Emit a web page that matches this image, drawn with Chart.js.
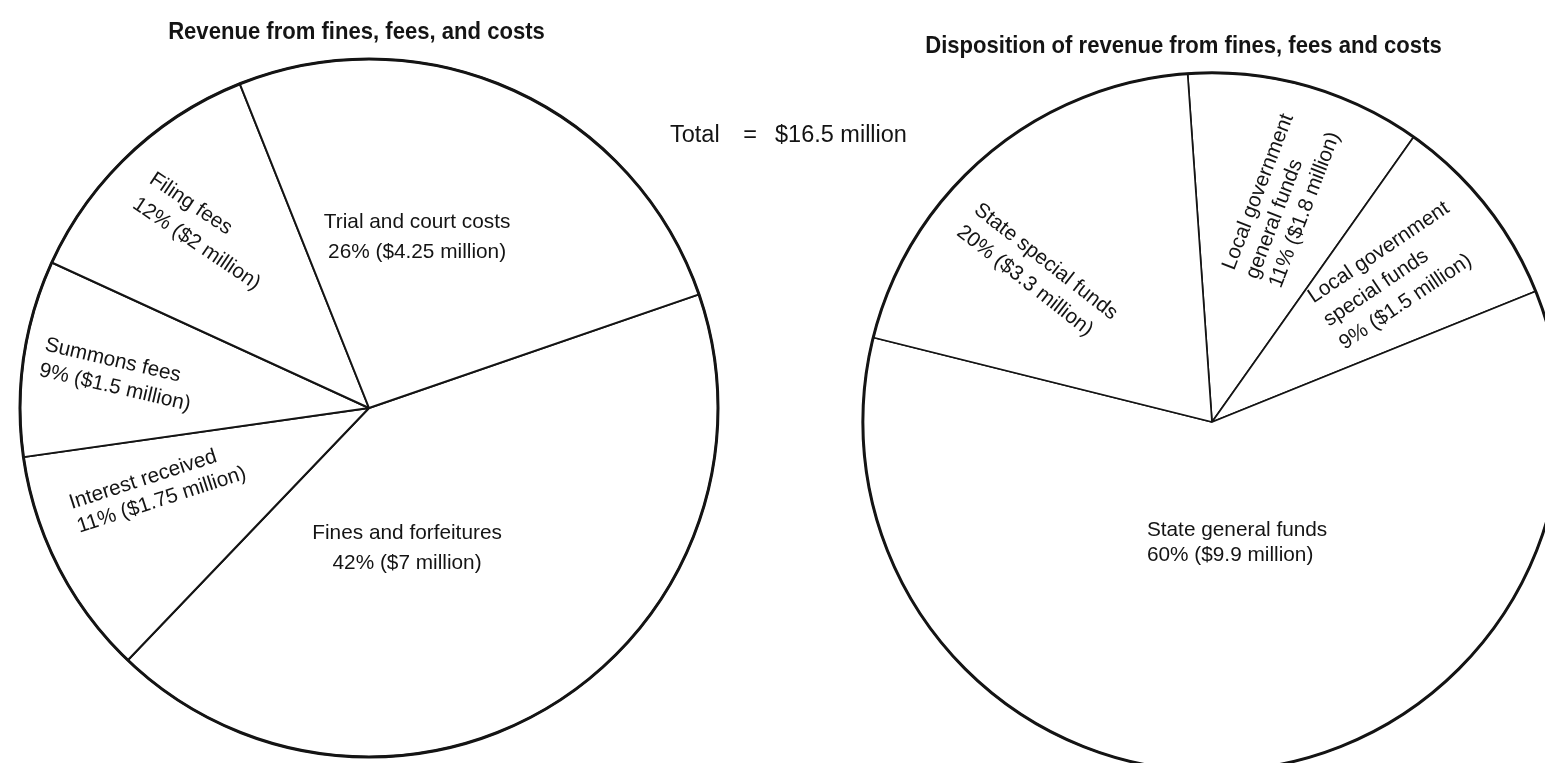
<!DOCTYPE html>
<html>
<head>
<meta charset="utf-8">
<title>Fines, fees and costs</title>
<script src="https://cdn.jsdelivr.net/npm/chart.js@4.4.1/dist/chart.umd.min.js"></script>
<style>
  html, body { margin: 0; padding: 0; background: #fff; overflow: hidden; }
  #stage { position: relative; width: 1545px; height: 763px; overflow: hidden; background: #fff; }
  #stage canvas { position: absolute; left: 0; top: 0; }
</style>
</head>
<body>
<div id="stage">
  <canvas id="revenue" width="1545" height="763"></canvas>
  <canvas id="disposition" width="1600" height="800"></canvas>
</div>
<script>
// ---- Data: slices listed clockwise, starting from the chart's rotation angle ----
const revenueNames = [
  ['Fines and forfeitures'],
  ['Interest received'],
  ['Summons fees'],
  ['Filing fees'],
  ['Trial and court costs']
];
const revenuePercent = [42, 11, 9, 12, 26];
const revenueMillions = [7, 1.75, 1.5, 2, 4.25];

const dispositionNames = [
  ['Local government', 'general funds'],
  ['Local government', 'special funds'],
  ['State general funds'],
  ['State special funds']
];
const dispositionPercent = [11, 9, 60, 20];
const dispositionMillions = [1.8, 1.5, 9.9, 3.3];

const revenueTitle = 'Revenue from fines, fees, and costs';
const dispositionTitle = 'Disposition of revenue from fines, fees and costs';

// ---- Styling ----
const FONT = "'Liberation Sans', Arial, Helvetica, sans-serif";
const INK = '#141414';
const LABEL_FONT = '20.8px ' + FONT;
const TITLE_FONT = 'bold 24px ' + FONT;
const TITLE_SQUEEZE = 0.92;   // titles are set in a slightly condensed bold
const RIM_WIDTH = 3;          // the outer circle is drawn heavier than the dividers

// Label placement, polar around the pie centre:
// angle = degrees clockwise from 12 o'clock, dist = fraction of radius,
// rot = text rotation in degrees, align = text alignment, lh = line height.
const revenueLabelLayout = [
  { angle: 164.8, dist: 0.416, rot: 0,   align: 'center', lh: 30 },
  { angle: 250,   dist: 0.90,  rot: -18, align: 'left',   lh: 25 },
  { angle: 278.8, dist: 0.947, rot: 13,  align: 'left',   lh: 26 },
  { angle: 314,   dist: 0.90,  rot: 34,  align: 'left',   lh: 30 },
  { angle: 15.7,  dist: 0.509, rot: 0,   align: 'center', lh: 30 }
];
const dispositionLabelLayout = [
  { angle: 15.5,  dist: 0.428, rot: -69, align: 'left', lh: 25 },
  { angle: 48.7,  dist: 0.434, rot: -34, align: 'left', lh: 28 },
  { angle: 208.4, dist: 0.392, rot: 0,   align: 'left', lh: 25 },
  { angle: 309.8, dist: 0.91,  rot: 38,  align: 'left', lh: 28 }
];

function moneyText(pct, m) {
  return pct + '% ($' + m + ' million)';
}

// Draws the rim, the title and the slice captions for one pie.
function makeTextPlugin(cfg) {
  return {
    id: 'pieText',
    afterDatasetsDraw(chart) {
      const ctx = chart.ctx;
      const arcs = chart.getDatasetMeta(0).data;
      const { x: cx, y: cy, outerRadius: R } = arcs[0].getProps(['x', 'y', 'outerRadius'], true);
      ctx.save();

      // heavier outer rim
      ctx.beginPath();
      ctx.arc(cx, cy, R, 0, Math.PI * 2);
      ctx.lineWidth = RIM_WIDTH;
      ctx.strokeStyle = INK;
      ctx.stroke();

      ctx.fillStyle = INK;

      // title above the pie
      ctx.save();
      ctx.font = TITLE_FONT;
      ctx.textAlign = 'center';
      ctx.textBaseline = 'alphabetic';
      ctx.translate(cx + cfg.titleDx, cy - R - 20);
      ctx.scale(TITLE_SQUEEZE, 1);
      ctx.fillText(cfg.title, 0, 0);
      ctx.restore();

      // slice captions
      ctx.font = LABEL_FONT;
      ctx.textBaseline = 'middle';
      cfg.names.forEach((name, i) => {
        const lay = cfg.layout[i];
        const a = (lay.angle - 90) * Math.PI / 180;
        const ax = cx + Math.cos(a) * R * lay.dist;
        const ay = cy + Math.sin(a) * R * lay.dist;
        const lines = name.concat([moneyText(cfg.percent[i], cfg.millions[i])]);
        ctx.save();
        ctx.translate(ax, ay);
        ctx.rotate(lay.rot * Math.PI / 180);
        ctx.textAlign = lay.align;
        lines.forEach((ln, k) => {
          ctx.fillText(ln, 0, (k - (lines.length - 1) / 2) * lay.lh);
        });
        ctx.restore();
      });

      if (cfg.extra) cfg.extra(ctx, cx, cy, R);
      ctx.restore();
    }
  };
}

function pieConfig(values, names, rotation, padding, borderWidth, textPlugin) {
  return {
    type: 'pie',
    data: {
      labels: names.map(n => n.join(' ')),
      datasets: [{
        data: values,
        backgroundColor: '#ffffff',
        borderColor: INK,
        borderWidth: borderWidth,
        borderAlign: 'center',
        clip: false
      }]
    },
    options: {
      responsive: false,
      animation: false,
      devicePixelRatio: 1,
      events: [],
      rotation: rotation,
      layout: { padding: padding },
      plugins: {
        legend: { display: false },
        tooltip: { enabled: false },
        title: { display: false }
      }
    },
    plugins: [textPlugin]
  };
}

const grandTotal = revenueMillions.reduce((s, v) => s + v, 0);

new Chart(document.getElementById('revenue'), pieConfig(
  revenueMillions, revenueNames, 71,
  { left: 19, top: 58, right: 826, bottom: 5 }, 2,
  makeTextPlugin({
    title: revenueTitle, titleDx: -12.5,
    names: revenueNames, percent: revenuePercent, millions: revenueMillions,
    layout: revenueLabelLayout,
    extra(ctx) {
      // overall total, written between the two pies
      ctx.font = '23.5px ' + FONT;
      ctx.textBaseline = 'alphabetic';
      ctx.textAlign = 'left';
      ctx.fillText('Total', 670, 142);
      ctx.textAlign = 'center';
      ctx.fillText('=', 750, 142);
      ctx.textAlign = 'left';
      ctx.fillText('$' + grandTotal + ' million', 775, 142);
    }
  })
));

new Chart(document.getElementById('disposition'), pieConfig(
  dispositionMillions, dispositionNames, -4,
  { left: 862, top: 72, right: 38, bottom: 28 }, 1.7,
  makeTextPlugin({
    title: dispositionTitle, titleDx: -28.5,
    names: dispositionNames, percent: dispositionPercent, millions: dispositionMillions,
    layout: dispositionLabelLayout
  })
));
</script>
</body>
</html>
